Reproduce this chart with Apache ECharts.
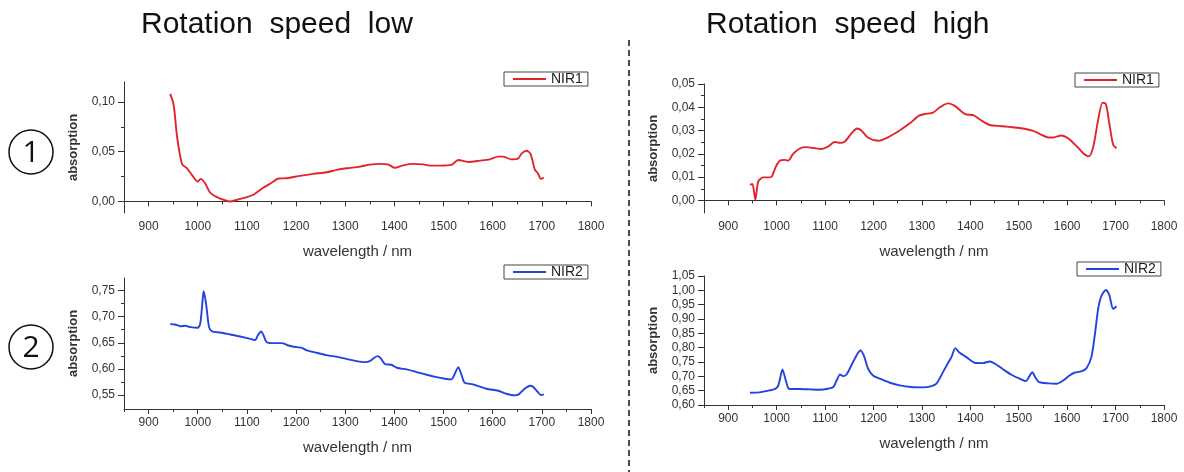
<!DOCTYPE html>
<html>
<head>
<meta charset="utf-8">
<script src="https://cdn.jsdelivr.net/npm/echarts@6/dist/echarts.min.js"></script>
<style>
  html, body { margin: 0; padding: 0; background: #fff; }
  #main { width: 1184px; height: 472px; }
</style>
</head>
<body>
<div id="main"></div>
<script>
// wavelength (nm) / absorption
var nmLow1 = [944, 951, 958, 968, 978, 988, 1000, 1006, 1015, 1025, 1039, 1052, 1065, 1080, 1100, 1113, 1134, 1151, 1164, 1181, 1208, 1235, 1262, 1283, 1303, 1330, 1350, 1371, 1388, 1401, 1418, 1438, 1459, 1472, 1493, 1516, 1530, 1550, 1574, 1594, 1611, 1621, 1638, 1652, 1659, 1669, 1677, 1686, 1692, 1698, 1704];
var absLow1 = [0.108, 0.097, 0.065, 0.0377, 0.0333, 0.0267, 0.020, 0.0227, 0.0183, 0.009, 0.0043, 0.0017, 0.0, 0.0017, 0.0043, 0.0067, 0.014, 0.019, 0.023, 0.0233, 0.0257, 0.0277, 0.0293, 0.0317, 0.0333, 0.035, 0.037, 0.0377, 0.037, 0.0337, 0.0363, 0.0377, 0.0373, 0.036, 0.036, 0.0367, 0.0417, 0.0397, 0.041, 0.0423, 0.045, 0.045, 0.0423, 0.0433, 0.0483, 0.051, 0.0477, 0.0317, 0.0283, 0.0227, 0.024];

var nmHigh1 = [945, 950, 956, 962, 972, 983, 990, 998, 1007, 1017, 1024, 1034, 1048, 1062, 1079, 1093, 1106, 1120, 1131, 1141, 1155, 1166, 1175, 1189, 1210, 1230, 1254, 1275, 1294, 1306, 1323, 1337, 1354, 1368, 1389, 1406, 1423, 1440, 1457, 1475, 1492, 1509, 1530, 1543, 1561, 1574, 1588, 1602, 1619, 1633, 1645, 1654, 1664, 1673, 1680, 1687, 1695, 1702];
var absHigh1 = [0.0067, 0.0071, 0.0003, 0.0081, 0.0099, 0.0099, 0.0103, 0.0143, 0.0171, 0.0174, 0.0171, 0.020, 0.0223, 0.0229, 0.0224, 0.0221, 0.0231, 0.0251, 0.0247, 0.0253, 0.0289, 0.0309, 0.030, 0.0269, 0.0256, 0.0271, 0.030, 0.0331, 0.0364, 0.0371, 0.0377, 0.040, 0.0417, 0.0406, 0.0371, 0.0366, 0.0343, 0.0324, 0.032, 0.0317, 0.0313, 0.0309, 0.0299, 0.0286, 0.027, 0.0271, 0.0279, 0.0267, 0.0234, 0.0203, 0.0189, 0.0231, 0.0346, 0.042, 0.0414, 0.0331, 0.0239, 0.0224];

var nmLow2 = [944, 954, 964, 975, 985, 1000, 1005, 1009, 1012, 1017, 1023, 1029, 1046, 1066, 1086, 1107, 1117, 1122, 1129, 1134, 1140, 1151, 1171, 1184, 1201, 1212, 1222, 1242, 1262, 1286, 1306, 1323, 1340, 1350, 1359, 1366, 1372, 1381, 1394, 1405, 1425, 1445, 1466, 1486, 1503, 1516, 1523, 1530, 1537, 1543, 1560, 1587, 1611, 1628, 1645, 1653, 1665, 1677, 1682, 1692, 1698, 1704];
var absLow2 = [0.6857, 0.685, 0.6818, 0.6825, 0.680, 0.6787, 0.6863, 0.7213, 0.7487, 0.7245, 0.6799, 0.6717, 0.6697, 0.6659, 0.6621, 0.6576, 0.6551, 0.664, 0.6717, 0.664, 0.6513, 0.6494, 0.6494, 0.6449, 0.6417, 0.6404, 0.6354, 0.6309, 0.6264, 0.6226, 0.6182, 0.615, 0.6131, 0.615, 0.6213, 0.6245, 0.6207, 0.6092, 0.608, 0.6022, 0.599, 0.594, 0.5889, 0.5844, 0.5812, 0.580, 0.5908, 0.6035, 0.5876, 0.5736, 0.5704, 0.5621, 0.5583, 0.5525, 0.5494, 0.5513, 0.5621, 0.5678, 0.5659, 0.5557, 0.550, 0.5513];

var nmHigh2 = [945, 965, 979, 996, 1003, 1007, 1012, 1017, 1023, 1027, 1048, 1069, 1089, 1106, 1117, 1124, 1131, 1137, 1144, 1155, 1165, 1173, 1180, 1189, 1199, 1217, 1234, 1254, 1278, 1303, 1320, 1330, 1340, 1351, 1361, 1369, 1378, 1392, 1409, 1426, 1440, 1451, 1468, 1485, 1502, 1515, 1521, 1528, 1535, 1542, 1561, 1578, 1592, 1605, 1615, 1629, 1640, 1650, 1657, 1664, 1671, 1680, 1687, 1695, 1702];
var absHigh2 = [0.6429, 0.6441, 0.6487, 0.6557, 0.6661, 0.6916, 0.7241, 0.6974, 0.6626, 0.6557, 0.6557, 0.6545, 0.6534, 0.6568, 0.6626, 0.6858, 0.7067, 0.7009, 0.7056, 0.7404, 0.7729, 0.7903, 0.7729, 0.7265, 0.7032, 0.6893, 0.6777, 0.6684, 0.6626, 0.6615, 0.6661, 0.6742, 0.7032, 0.738, 0.767, 0.7984, 0.7821, 0.767, 0.7473, 0.7462, 0.752, 0.7439, 0.7241, 0.7056, 0.6916, 0.6835, 0.6974, 0.7148, 0.694, 0.680, 0.6754, 0.6742, 0.6858, 0.7032, 0.7125, 0.7172, 0.7288, 0.767, 0.8425, 0.9353, 0.9817, 1.0014, 0.984, 0.9353, 0.9445];

// tick values
var xTicks = [900, 1000, 1100, 1200, 1300, 1400, 1500, 1600, 1700, 1800];
var xMinorTicks = [850, 950, 1050, 1150, 1250, 1350, 1450, 1550, 1650, 1750];
var yTicksLow1 = [0, 0.05, 0.10];
var yMinorLow1 = [0.025, 0.075];
var yTicksHigh1 = [0, 0.01, 0.02, 0.03, 0.04, 0.05];
var yMinorHigh1 = [0.005, 0.015, 0.025, 0.035, 0.045];
var yTicksLow2 = [0.55, 0.60, 0.65, 0.70, 0.75];
var yMinorLow2 = [0.575, 0.625, 0.675, 0.725];
var yTicksHigh2 = [0.60, 0.65, 0.70, 0.75, 0.80, 0.85, 0.90, 0.95, 1.00, 1.05];
var yMinorHigh2 = [];

var FONT = '"Liberation Sans", Arial, sans-serif';
var AXIS_COLOR = '#333';

var panels = [
  { grid: { left: 124, top: 82, width: 467, height: 131 }, yMin: -0.0116, yMax: 0.12,
    yTicks: yTicksLow1, yMinor: yMinorLow1, name: 'NIR1', color: '#e3232c', nm: nmLow1, abs: absLow1,
    legendPos: { left: 504, top: 72 } },
  { grid: { left: 704, top: 84, width: 460, height: 129 }, yMin: -0.0054, yMax: 0.05,
    yTicks: yTicksHigh1, yMinor: yMinorHigh1, name: 'NIR1', color: '#e3232c', nm: nmHigh1, abs: absHigh1,
    legendPos: { left: 1075, top: 73 } },
  { grid: { left: 124, top: 278, width: 467, height: 131 }, yMin: 0.5233, yMax: 0.774,
    yTicks: yTicksLow2, yMinor: yMinorLow2, name: 'NIR2', color: '#2342e0', nm: nmLow2, abs: absLow2,
    legendPos: { left: 504, top: 265 } },
  { grid: { left: 704, top: 276, width: 460, height: 129 }, yMin: 0.60, yMax: 1.05,
    yTicks: yTicksHigh2, yMinor: yMinorHigh2, name: 'NIR2', color: '#2342e0', nm: nmHigh2, abs: absHigh2,
    legendPos: { left: 1077, top: 262 } }
];

function comma(v) {
  return v.toFixed(2).replace('.', ',');
}

var grids = [], xAxes = [], yAxes = [], series = [], legends = [];

panels.forEach(function (p, i) {
  grids.push(p.grid);

  // major x axis
  xAxes.push({
    type: 'value', gridIndex: i, position: 'bottom', min: 850, max: 1800,
    name: 'wavelength / nm', nameLocation: 'middle', nameGap: 31,
    nameTextStyle: { fontSize: 15, color: AXIS_COLOR, fontFamily: FONT },
    axisLine: { show: true, lineStyle: { color: AXIS_COLOR, width: 1 } },
    axisTick: { show: true, length: 5, customValues: xTicks, lineStyle: { color: AXIS_COLOR } },
    axisLabel: { customValues: xTicks, fontSize: 12, color: AXIS_COLOR, fontFamily: FONT, margin: 8,
      formatter: function (v) { return String(v); } },
    splitLine: { show: false }
  });
  // minor x ticks
  xAxes.push({
    type: 'value', gridIndex: i, position: 'bottom', min: 850, max: 1800,
    axisLine: { show: false },
    axisTick: { show: true, length: 3, customValues: xMinorTicks, lineStyle: { color: AXIS_COLOR } },
    axisLabel: { show: false },
    splitLine: { show: false }
  });

  yAxes.push({
    type: 'value', gridIndex: i, position: 'left', min: p.yMin, max: p.yMax,
    name: 'absorption', nameLocation: 'middle', nameGap: 44,
    nameTextStyle: { fontSize: 13, fontWeight: 'bold', color: AXIS_COLOR, fontFamily: FONT },
    axisLine: { show: true, lineStyle: { color: AXIS_COLOR, width: 1 } },
    axisTick: { show: true, length: 6, customValues: p.yTicks, lineStyle: { color: AXIS_COLOR } },
    axisLabel: { customValues: p.yTicks, fontSize: 12, color: AXIS_COLOR, fontFamily: FONT, margin: 9,
      formatter: comma },
    splitLine: { show: false }
  });
  // minor y ticks
  yAxes.push({
    type: 'value', gridIndex: i, position: 'left', min: p.yMin, max: p.yMax,
    axisLine: { show: false },
    axisTick: { show: p.yMinor.length > 0, length: 3, customValues: p.yMinor, lineStyle: { color: AXIS_COLOR } },
    axisLabel: { show: false },
    splitLine: { show: false }
  });

  series.push({
    name: p.name, type: 'line', xAxisIndex: 2 * i, yAxisIndex: 2 * i,
    symbol: 'none', smooth: 0.25,
    lineStyle: { color: p.color, width: 1.9 },
    itemStyle: { color: p.color },
    data: p.nm.map(function (x, k) { return [x, p.abs[k]]; })
  });

  legends.push({
    data: [p.name], left: p.legendPos.left, top: p.legendPos.top,
    padding: [0, 5, 0, 9], itemWidth: 33, itemHeight: 2, icon: 'rect',
    borderColor: '#444', borderWidth: 1, selectedMode: false,
    textStyle: { fontSize: 14, color: '#222', fontFamily: FONT }
  });
});

var chart = echarts.init(document.getElementById('main'));
chart.setOption({
  animation: false,
  backgroundColor: '#fff',
  grid: grids,
  xAxis: xAxes,
  yAxis: yAxes,
  legend: legends,
  series: series,
  graphic: [
    { type: 'text', left: 141, top: 10,
      style: { text: 'Rotation  speed  low', font: '30px ' + FONT, fill: '#111' } },
    { type: 'text', left: 706, top: 10,
      style: { text: 'Rotation  speed  high', font: '30px ' + FONT, fill: '#111' } },
    { type: 'line', shape: { x1: 629, y1: 40, x2: 629, y2: 472 },
      style: { stroke: '#111', lineWidth: 1.5, lineDash: [6, 4] } },
    { type: 'circle', shape: { cx: 31, cy: 152, r: 22 },
      style: { fill: 'none', stroke: '#111', lineWidth: 1.5 } },
    { type: 'text', x: 31, y: 153,
      style: { text: '1', font: '30px "Open Sans", sans-serif', fill: '#111', textAlign: 'center', textVerticalAlign: 'middle' } },
    { type: 'circle', shape: { cx: 31, cy: 347, r: 22 },
      style: { fill: 'none', stroke: '#111', lineWidth: 1.5 } },
    { type: 'text', x: 31, y: 348,
      style: { text: '2', font: '30px "Open Sans", sans-serif', fill: '#111', textAlign: 'center', textVerticalAlign: 'middle' } }
  ]
});
</script>
</body>
</html>
